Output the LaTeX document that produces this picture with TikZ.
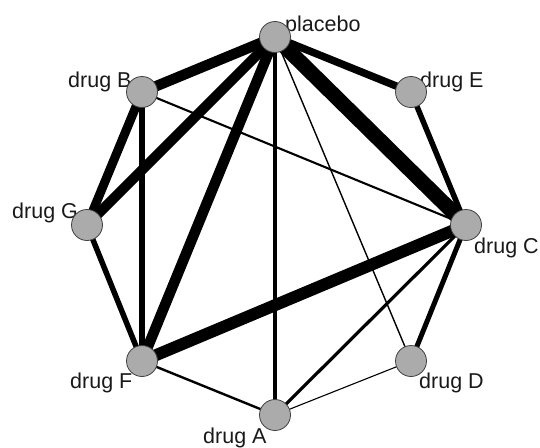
\documentclass[tikz,border=0pt]{standalone}
\usepackage{fontspec}
\setmainfont{Liberation Sans}
\begin{document}
\begin{tikzpicture}[x=1pt,y=-1pt,
  drugnode/.style={circle,draw=black!75,line width=0.8pt,fill=black!33,minimum size=31pt,inner sep=0pt},
  lbl/.style={anchor=base west,inner sep=0pt,font=\fontsize{21.5}{25}\selectfont,text=black!90},
  edge/.style={draw=black,line cap=round}]
\useasboundingbox (0,0) rectangle (540,447);
\coordinate (P) at (275,37);
\coordinate (E) at (411,92);
\coordinate (C) at (466,225);
\coordinate (D) at (411,361);
\coordinate (A) at (275,415);
\coordinate (F) at (142,361);
\coordinate (G) at (87,225);
\coordinate (B) at (142,92);
% edges
\draw[edge,line width=15pt] (P) -- (C);
\draw[edge,line width=10.5pt] (P) -- (B);
\draw[edge,line width=10pt] (P) -- (G);
\draw[edge,line width=10.5pt] (P) -- (F);
\draw[edge,line width=12pt] (C) -- (F);
\draw[edge,line width=9pt] (B) -- (G);
\draw[edge,line width=7.5pt] (P) -- (E);
\draw[edge,line width=6.5pt] (B) -- (F);
\draw[edge,line width=5.5pt] (F) -- (G);
\draw[edge,line width=5.5pt] (E) -- (C);
\draw[edge,line width=5pt] (C) -- (D);
\draw[edge,line width=4pt] (P) -- (A);
\draw[edge,line width=3.2pt] (C) -- (A);
\draw[edge,line width=2.4pt] (A) -- (F);
\draw[edge,line width=2.1pt] (B) -- (C);
\draw[edge,line width=1.4pt] (P) -- (D);
\draw[edge,line width=1.1pt] (A) -- (D);
% labels
\node[lbl] (lP) at (285,31) {placebo};
\node[lbl] (lE) at (420,87) {drug E};
\node[lbl] (lC) at (474,253) {drug C};
\node[lbl] (lD) at (419,388) {drug D};
\node[lbl] (lA) at (203,443) {drug A};
\node[lbl] (lF) at (70,388) {drug F};
\node[lbl] (lG) at (12,218) {drug G};
\node[lbl] (lB) at (68,87) {drug B};
% nodes
\node[drugnode] (nP) at (P) {};
\node[drugnode] (nE) at (E) {};
\node[drugnode] (nC) at (C) {};
\node[drugnode] (nD) at (D) {};
\node[drugnode] (nA) at (A) {};
\node[drugnode] (nF) at (F) {};
\node[drugnode] (nG) at (G) {};
\node[drugnode] (nB) at (B) {};
\end{tikzpicture}
\end{document}
